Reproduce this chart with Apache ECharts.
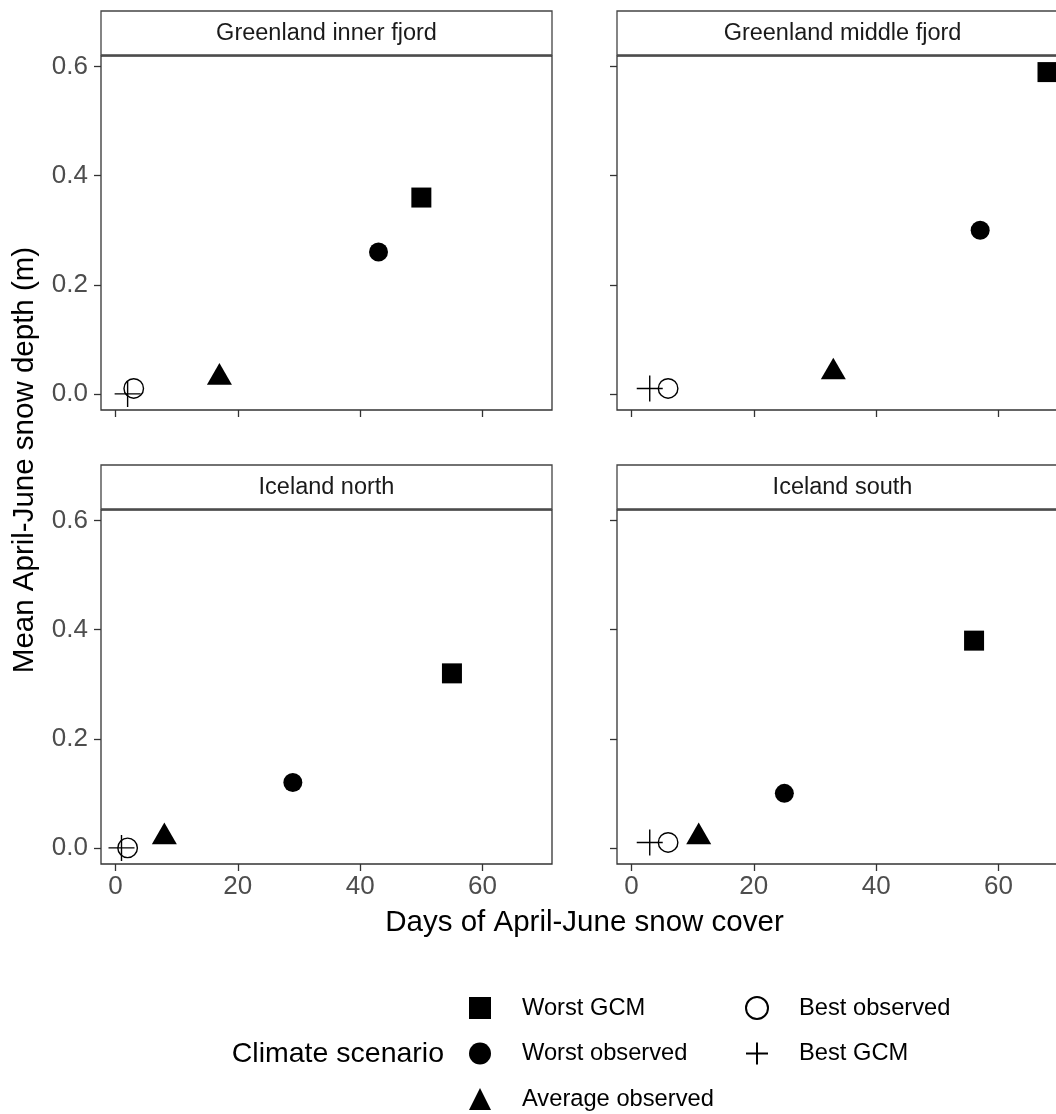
<!DOCTYPE html>
<html>
<head>
<meta charset="utf-8">
<script src="https://cdn.jsdelivr.net/npm/echarts@6/dist/echarts.min.js"></script>
<style>
html,body{margin:0;padding:0;background:#fff;overflow:hidden;width:1056px;height:1114px}
#chart{width:1080px;height:1114px}
</style>
</head>
<body>
<div id="chart"></div>
<script>
// ---------- data ----------
const panels = ['Greenland inner fjord', 'Greenland middle fjord', 'Iceland north', 'Iceland south'];
const scenarios = ['Worst GCM', 'Worst observed', 'Average observed', 'Best observed', 'Best GCM'];
const worstGcmDays  = [50, 68, 55, 56];
const worstGcmDepth = [0.36, 0.59, 0.32, 0.38];
const worstObsDays  = [43, 57, 29, 25];
const worstObsDepth = [0.26, 0.30, 0.12, 0.10];
const avgObsDays    = [17, 33, 8, 11];
const avgObsDepth   = [0.03, 0.04, 0.02, 0.02];
const bestObsDays   = [3, 6, 2, 6];
const bestObsDepth  = [0.01, 0.01, 0.00, 0.01];
const bestGcmDays   = [2, 3, 1, 3];
const bestGcmDepth  = [0.00, 0.01, 0.00, 0.01];
const xTicks = [0, 20, 40, 60];
const yTicks = [0, 0.2, 0.4, 0.6];

// ---------- layout / style ----------
const FONT = '"Liberation Sans", Arial, Helvetica, sans-serif';
const panelW = 451, panelH = 354;
const colLeft = [101, 617];
const rowTop = [56, 510];
const stripH = 45;

const daysBy = [worstGcmDays, worstObsDays, avgObsDays, bestObsDays, bestGcmDays];
const depthBy = [worstGcmDepth, worstObsDepth, avgObsDepth, bestObsDepth, bestGcmDepth];

const allDays = [].concat(...daysBy), allDepth = [].concat(...depthBy);
const xLo = Math.min(...allDays), xHi = Math.max(...allDays);
const yLo = Math.min(...allDepth), yHi = Math.max(...allDepth);
const xPad = 0.05 * (xHi - xLo), yPad = 0.05 * (yHi - yLo);
const xMin = xLo - xPad, xMax = xHi + xPad, yMin = yLo - yPad, yMax = yHi + yPad;

const symbolStyles = [
  {symbol: 'rect', symbolSize: 20, itemStyle: {color: '#000', opacity: 1}},
  {symbol: 'circle', symbolSize: 19, itemStyle: {color: '#000', opacity: 1}},
  {symbol: 'triangle', symbolSize: [25, 21.7], symbolOffset: [0, -3.6], itemStyle: {color: '#000', opacity: 1}},
  {symbol: 'circle', symbolSize: 19.5, itemStyle: {color: 'rgba(0,0,0,0)', borderColor: '#000', borderWidth: 1.4, opacity: 1}},
  {symbol: 'path://M0,10L20,10M10,0L10,20', symbolSize: 26, itemStyle: {color: 'rgba(0,0,0,0)', borderColor: '#000', borderWidth: 1.4, opacity: 1}}
];

const grids = [], xAxes = [], yAxes = [], series = [], graphics = [];
for (let i = 0; i < panels.length; i++) {
  const col = i % 2, row = Math.floor(i / 2);
  grids.push({left: colLeft[col], top: rowTop[row], width: panelW, height: panelH,
    show: true, borderColor: '#333', borderWidth: 1.3, backgroundColor: '#fff'});
  xAxes.push({type: 'value', gridIndex: i, min: xMin, max: xMax,
    axisLine: {show: false, onZero: false}, splitLine: {show: false},
    axisTick: {show: true, length: 7, lineStyle: {color: '#333', width: 1.3}, customValues: xTicks},
    axisLabel: {show: row === 1, customValues: xTicks, margin: 10, fontSize: 26, color: '#4d4d4d', fontFamily: FONT}});
  yAxes.push({type: 'value', gridIndex: i, min: yMin, max: yMax,
    axisLine: {show: false, onZero: false}, splitLine: {show: false},
    axisTick: {show: true, length: 7, lineStyle: {color: '#333', width: 1.3}, customValues: yTicks},
    axisLabel: {show: col === 0, customValues: yTicks, margin: 13, fontSize: 26, color: '#4d4d4d', fontFamily: FONT,
      formatter: v => v.toFixed(1)}});
  for (let s = 0; s < scenarios.length; s++) {
    series.push(Object.assign({
      type: 'scatter', name: scenarios[s], xAxisIndex: i, yAxisIndex: i,
      data: [[daysBy[s][i], depthBy[s][i]]], z: 3, emphasis: {disabled: true}
    }, symbolStyles[s]));
  }
  // strip
  graphics.push({type: 'rect', z: 10, shape: {x: colLeft[col], y: rowTop[row] - stripH, width: panelW, height: stripH - 1},
    style: {fill: '#fff', stroke: '#444', lineWidth: 1.3}});
  graphics.push({type: 'text', z: 11, x: colLeft[col] + panelW / 2, y: rowTop[row] - stripH / 2,
    style: {text: panels[i], fontSize: 23.5, fontFamily: FONT, fill: '#1a1a1a', align: 'center', verticalAlign: 'middle'}});
}
graphics.push({type: 'text', x: 584.5, y: 923,
  style: {text: 'Days of April-June snow cover', fontSize: 29.5, fontFamily: FONT, fill: '#000', align: 'center', verticalAlign: 'middle'}});
graphics.push({type: 'text', x: 25, y: 460, rotation: Math.PI / 2,
  style: {text: 'Mean April-June snow depth (m)', fontSize: 29.5, fontFamily: FONT, fill: '#000', align: 'center', verticalAlign: 'middle'}});
graphics.push({type: 'text', x: 444, y: 1054,
  style: {text: 'Climate scenario', fontSize: 28.5, fontFamily: FONT, fill: '#000', align: 'right', verticalAlign: 'middle'}});

const legendText = {fontSize: 23.7, color: '#000', fontFamily: FONT, padding: [0, 0, 0, 26]};
const option = {
  animation: false,
  backgroundColor: '#fff',
  grid: grids, xAxis: xAxes, yAxis: yAxes, series: series,
  legend: [
    {data: scenarios.slice(0, 3), orient: 'vertical', left: 464, top: 991, height: 300, itemWidth: 22, itemHeight: 22, itemGap: 21.5,
     selectedMode: false, textStyle: legendText},
    {data: scenarios.slice(3), orient: 'vertical', left: 740, top: 991, height: 300, itemWidth: 22, itemHeight: 22, itemGap: 21.5,
     selectedMode: false, textStyle: legendText}
  ],
  graphic: graphics
};
const chart = echarts.init(document.getElementById('chart'), null, {renderer: 'canvas'});
chart.setOption(option);
</script>
</body>
</html>
